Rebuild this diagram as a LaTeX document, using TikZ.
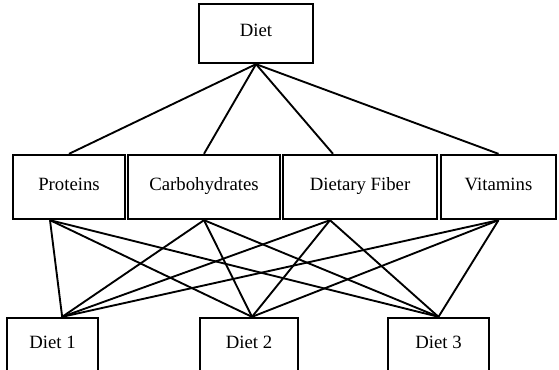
\documentclass[tikz,border=0pt]{standalone}
\usepackage{fontspec}
\setmainfont{Liberation Serif}
\usepackage{tikz}

\tikzset{
  box/.style={draw, line width=2pt, inner sep=0pt, minimum height=1.92cm,
    text height=1.6ex, text depth=0.4ex,
    font=\fontsize{16}{19}\selectfont},
  link/.style={line width=1.6pt}
}

\begin{document}
\begin{tikzpicture}[x=0.03cm, y=-0.03cm]
        \useasboundingbox (0,0) rectangle (559,370);
        \clip (0,0) rectangle (559,370);

        \node[box, minimum width=3.42cm, minimum height=1.77cm] (diet) at (256,33.5) {Diet};

        \node[box, minimum width=3.36cm] (prot) at (69,187) {Proteins};
        \node[box, minimum width=4.56cm] (carb) at (204,187) {Carbohydrates};
        \node[box, minimum width=4.62cm] (fiber) at (360,187) {Dietary Fiber};
        \node[box, minimum width=3.45cm] (vit) at (498.5,187) {Vitamins};

        \node[box, minimum width=2.73cm, minimum height=1.62cm] (d1) at (52.5,345) {Diet 1};
        \node[box, minimum width=2.94cm, minimum height=1.62cm] (d2) at (249,345) {Diet 2};
        \node[box, minimum width=3.03cm, minimum height=1.62cm] (d3) at (438.5,345) {Diet 3};

        \draw[link] (diet.south) -- (prot.north);
        \draw[link] (diet.south) -- (carb.north);
        \draw[link] (diet.south) -- ([xshift=-0.81cm]fiber.north);
        \draw[link] (diet.south) -- (vit.north);

        \foreach \m/\mx in {prot/-0.57, carb/0, fiber/-0.9, vit/0}
          \foreach \b/\bx in {d1/0.29, d2/0.09, d3/0}
            \draw[link] ([xshift=\mx cm]\m.south) -- ([xshift=\bx cm]\b.north);
    \end{tikzpicture}
\end{document}
